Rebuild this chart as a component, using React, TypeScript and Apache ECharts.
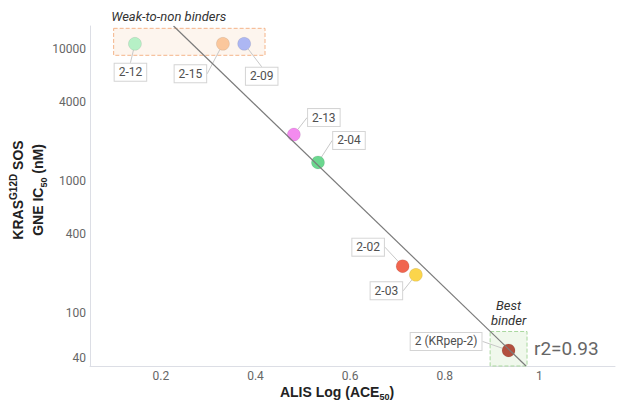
import React, { useEffect, useRef } from "react";
import * as echarts from "echarts";

// Compounds, their ALIS Log(ACE50) score and KRAS G12D SOS IC50 (nM)
const compounds = ["2-12", "2-15", "2-09", "2-13", "2-04", "2-02", "2-03", "2 (KRpep-2)"];
const aceLog = [0.145, 0.331, 0.376, 0.481, 0.532, 0.711, 0.739, 0.935];
const ic50 = [11000, 11000, 11000, 2260, 1390, 228, 196, 52.5];
const pointColors = ["#b6f0c6", "#fbc79c", "#adb7f3", "#f38bef", "#6bd78f", "#f0654f", "#fbd54b", "#b24f3e"];

// Label placement relative to each point (px)
const labelOffsets: [number, number][] = [
  [-4.5, 28.5],
  [-32.5, 30],
  [17.5, 32.5],
  [30, -17],
  [31, -22],
  [-34.5, -19],
  [-29.5, 16],
  [-62.5, -9],
];

const xTicks = [0.2, 0.4, 0.6, 0.8, 1];
const yTicks = [40, 100, 400, 1000, 4000, 10000];

const X_MIN = 0.05;
const X_MAX = 1.16;
const IC_MIN = 40;
const IC_MAX = 15000;

const lg = (v: number) => Math.log10(v);

// Least-squares fit of log10(IC50) against ACE50 score
function fit(xs: number[], ys: number[]) {
  const n = xs.length;
  const mx = xs.reduce((a, b) => a + b, 0) / n;
  const my = ys.reduce((a, b) => a + b, 0) / n;
  let sxy = 0;
  let sxx = 0;
  for (let i = 0; i < n; i++) {
    sxy += (xs[i] - mx) * (ys[i] - my);
    sxx += (xs[i] - mx) ** 2;
  }
  const slope = sxy / sxx;
  return { slope, intercept: my - slope * mx };
}

export default function App() {
  const ref = useRef<HTMLDivElement>(null);

  useEffect(() => {
    document.body.style.margin = "0";
    if (!ref.current) return;
    const chart = echarts.init(ref.current, null, { renderer: "svg" });

    const logIc = ic50.map(lg);
    const { slope, intercept } = fit(aceLog, logIc);
    const yTop = lg(IC_MAX);
    const yBot = lg(IC_MIN);
    const fitLine = [
      [(yTop - intercept) / slope, yTop],
      [(yBot - intercept) / slope, yBot],
    ];

    const font = "Roboto";

    chart.setOption({
      animation: false,
      grid: { left: 90, right: 9, top: 26, bottom: 34 },
      xAxis: {
        type: "value",
        min: X_MIN,
        max: X_MAX,
        axisLine: { show: true, lineStyle: { color: "#dcdee5", width: 1 } },
        axisTick: { show: false },
        splitLine: { show: false },
        axisLabel: {
          customValues: xTicks,
          color: "#666",
          fontFamily: font,
          fontSize: 12,
          margin: 4,
          formatter: (v: number) => String(Math.round(v * 10) / 10),
        },
      },
      yAxis: {
        type: "value",
        min: lg(IC_MIN),
        max: lg(IC_MAX),
        axisLine: { show: true, lineStyle: { color: "#dcdee5", width: 1 } },
        axisTick: { show: false },
        splitLine: { show: false },
        axisLabel: {
          customValues: yTicks.map(lg),
          color: "#666",
          fontFamily: font,
          fontSize: 12,
          margin: 4,
          formatter: (v: number) => {
            const n = Math.round(10 ** v);
            return n === IC_MIN ? `{low|${n}}` : String(n);
          },
          rich: {
            low: { color: "#666", fontFamily: font, fontSize: 12, padding: [0, 0, 16, 0] },
          },
        },
      },
      series: [
        {
          type: "scatter",
          z: 2,
          symbolSize: 13,
          data: compounds.map((name, i) => ({
            name,
            value: [aceLog[i], logIc[i]],
            itemStyle: {
              color: pointColors[i],
              opacity: 1,
              borderColor: "rgba(0,0,0,0.08)",
              borderWidth: 1,
            },
          })),
          label: {
            show: true,
            position: "inside",
            formatter: "{b}",
            color: "#505050",
            fontFamily: font,
            fontSize: 12,
            lineHeight: 13,
            backgroundColor: "#fff",
            borderColor: "#d4d4d4",
            borderWidth: 1,
            padding: [2, 4],
          },
          labelLine: { show: true, lineStyle: { color: "#c8c8c8", width: 1 } },
          labelLayout: (p: any) => ({
            dx: labelOffsets[p.dataIndex][0],
            dy: labelOffsets[p.dataIndex][1],
          }),
        },
        {
          type: "line",
          z: 3,
          data: fitLine,
          symbol: "none",
          silent: true,
          lineStyle: { color: "#7b7b7b", width: 1.2 },
          markArea: {
            silent: true,
            z: 1,
            data: [
              [
                {
                  coord: [0.1, lg(14400)],
                  itemStyle: {
                    color: "rgba(250,225,205,0.35)",
                    borderColor: "#f4b48a",
                    borderWidth: 1,
                    borderType: "dashed",
                  },
                  label: {
                    show: true,
                    formatter: "Weak-to-non binders",
                    position: [-2, -11],
                    align: "left",
                    verticalAlign: "middle",
                    color: "#333",
                    fontFamily: font,
                    fontStyle: "italic",
                    fontSize: 13,
                  },
                },
                { coord: [0.42, lg(9000)] },
              ],
              [
                {
                  coord: [0.896, lg(73)],
                  itemStyle: {
                    color: "rgba(222,240,212,0.45)",
                    borderColor: "#a9d79e",
                    borderWidth: 1,
                    borderType: "dashed",
                  },
                  label: {
                    show: true,
                    formatter: "Best\nbinder",
                    position: "top",
                    distance: 3,
                    align: "center",
                    color: "#333",
                    fontFamily: font,
                    fontStyle: "italic",
                    fontSize: 13,
                    lineHeight: 15,
                  },
                },
                { coord: [0.974, lg(IC_MIN)] },
              ],
            ],
          },
        },
      ],
      graphic: [
        {
          type: "text",
          left: 534,
          top: 339,
          style: {
            text: "r2=0.93",
            fill: "#666",
            font: `19px ${font}`,
          },
        },
        {
          type: "text",
          x: 28,
          y: 190,
          rotation: Math.PI / 2,
          style: {
            text: "{b|KRAS}{sup|G12D}{b| SOS}\n{b|GNE IC}{sub|50}{b| (nM)}",
            align: "center",
            verticalAlign: "middle",
            rich: {
              b: { fontFamily: "Liberation Sans", fontWeight: "bold", fontSize: 14, fill: "#222", lineHeight: 20 },
              sup: { fontFamily: "Liberation Sans", fontWeight: "bold", fontSize: 10, fill: "#222", verticalAlign: "top", lineHeight: 20, padding: [0, 0, 6, 0] },
              sub: { fontFamily: "Liberation Sans", fontWeight: "bold", fontSize: 9, fill: "#222", verticalAlign: "bottom", lineHeight: 20, padding: [5, 0, 0, 0] },
            },
          },
        },
        {
          type: "text",
          x: 337,
          y: 392,
          style: {
            text: "{b|ALIS Log (ACE}{sub|50}{b|)}",
            align: "center",
            verticalAlign: "middle",
            rich: {
              b: { fontFamily: "Liberation Sans", fontWeight: "bold", fontSize: 14, fill: "#222", lineHeight: 18 },
              sub: { fontFamily: "Liberation Sans", fontWeight: "bold", fontSize: 9, fill: "#222", verticalAlign: "bottom", lineHeight: 18, padding: [5, 0, 0, 0] },
            },
          },
        },
      ],
    });

    return () => chart.dispose();
  }, []);

  return <div ref={ref} style={{ width: 624, height: 400 }} />;
}
